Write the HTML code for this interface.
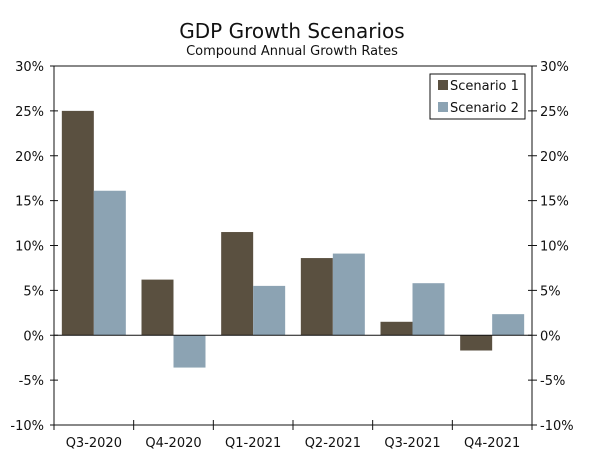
<!DOCTYPE html>
<html><head><meta charset="utf-8"><style>
body{margin:0;background:#fff;}
svg text{font-family:"DejaVu Sans","Liberation Sans",sans-serif;fill:#111;}
</style></head><body>
<svg id="chart" width="600" height="456" xmlns="http://www.w3.org/2000/svg">
<text x="292" y="38" font-size="20" text-anchor="middle">GDP Growth Scenarios</text>
<text x="292" y="55" font-size="13" text-anchor="middle">Compound Annual Growth Rates</text>
<g id="marks"></g>
<g>
<rect x="430" y="74" width="95" height="45" fill="#fff" stroke="#111" stroke-width="1"/>
<rect x="438" y="80" width="10" height="10" fill="#5a5040"/>
<text x="450" y="90" font-size="13">Scenario 1</text>
<rect x="438" y="102" width="10" height="10" fill="#8ca3b3"/>
<text x="450" y="112" font-size="13">Scenario 2</text>
</g>
</svg>
<script>
const categories=["Q3-2020","Q4-2020","Q1-2021","Q2-2021","Q3-2021","Q4-2021"];
const scenario1=[25.0,6.2,11.5,8.6,1.5,-1.7];
const scenario2=[16.1,-3.6,5.5,9.1,5.8,2.35];
const yTicks=[-10,-5,0,5,10,15,20,25,30];
const NS="http://www.w3.org/2000/svg";
const L=54,R=532,T=66,B=425,yMin=-10,yMax=30;
function y(v){return B-(v-yMin)/(yMax-yMin)*(B-T);}
const cw=(R-L)/categories.length;
function x(i){return L+i*cw;}
const g=document.getElementById('marks');
function el(t,a){const e=document.createElementNS(NS,t);for(const k in a)e.setAttribute(k,a[k]);g.appendChild(e);return e;}
const bw=32,off=(cw-2*bw)/2;
[[scenario1,"#5a5040","scenario-1"],[scenario2,"#8ca3b3","scenario-2"]].forEach(([arr,c,n],s)=>{
 arr.forEach((v,i)=>{
  const r=el('rect',{x:x(i)+off+s*bw,y:Math.min(y(v),y(0)),width:bw,height:Math.abs(y(v)-y(0)),fill:c});
  
  
 });
});
const frame=el('path',{d:`M${L},${T}H${R}V${B}H${L}Z`,fill:'none',stroke:'#111','stroke-width':1});


const zl=el('line',{x1:L,x2:R,y1:y(0),y2:y(0),stroke:'#111','stroke-width':1});


yTicks.forEach(t=>{
 el('line',{x1:L-4,x2:L+4,y1:y(t),y2:y(t),stroke:'#111'});
 el('line',{x1:R-4,x2:R+5,y1:y(t),y2:y(t),stroke:'#111'});
 const a=el('text',{x:L-10,y:y(t)+5,'font-size':13,'text-anchor':'end'});a.textContent=t+'%';
 
 
 const b=el('text',{x:R+8,y:y(t)+5,'font-size':13});b.textContent=t+'%';
 
 
});
categories.forEach((c,i)=>{
 el('line',{x1:x(i),x2:x(i),y1:B-5,y2:B+5,stroke:'#111'});
 const t=el('text',{x:x(i)+cw/2,y:B+22,'font-size':13,'text-anchor':'middle'});t.textContent=c;
 
 
});
el('line',{x1:R,x2:R,y1:B-5,y2:B+5,stroke:'#111'});
</script>
</body></html>
